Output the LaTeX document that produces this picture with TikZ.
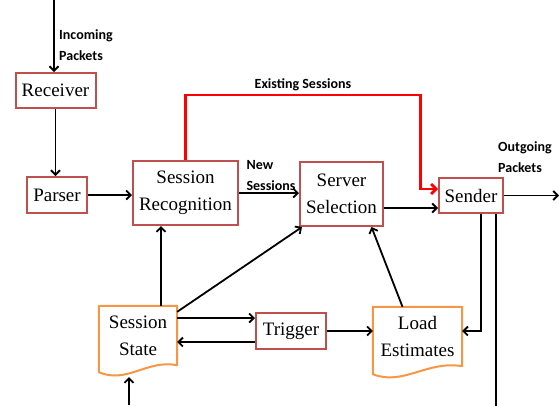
\documentclass[tikz,border=0pt]{standalone}
\usepackage{fontspec}
\setmainfont{Liberation Serif}
\newfontfamily\boxfont{Liberation Serif}
\newfontfamily\labfont{Carlito}[BoldFont={Carlito Bold}]
\usepackage{xcolor}
\usetikzlibrary{arrows.meta,calc}
\definecolor{boxred}{RGB}{192,80,77}
\definecolor{docorange}{RGB}{247,150,70}

\begin{document}
\begin{tikzpicture}[x=1pt,y=-1pt,
    box/.style={draw=boxred,line width=2pt,fill=white,align=center,inner sep=0pt,
      font=\boxfont\fontsize{19}{27}\selectfont},
    docbox/.style={align=center,inner sep=0pt,font=\boxfont\fontsize{19}{27}\selectfont},
    docline/.style={draw=docorange,line width=2pt,line join=round},
    lab/.style={font=\labfont\bfseries\fontsize{14}{21}\selectfont,align=left,inner sep=1pt,text=black},
    arrow/.style={-{Straight Barb[length=4.5pt,width=9pt]},line width=1.8pt},
    redarrow/.style={-{Straight Barb[length=5pt,width=10pt]},line width=2.8pt,red}]
  \useasboundingbox (0,0) rectangle (559,405);

  \node[box,minimum width=80pt,minimum height=35pt] (rec) at (55.5,90.5) {Receiver};
  \node[box,minimum width=60pt,minimum height=36pt] (parser) at (57,195) {Parser};
  \node[box,minimum width=105pt,minimum height=64pt] (sr) at (185.5,193) {Session\\Recognition};
  \node[box,minimum width=83pt,minimum height=64pt] (ss) at (341.5,194) {Server\\Selection};
  \node[box,minimum width=64pt,minimum height=35pt] (snd) at (471,195.5) {Sender};
  \node[box,minimum width=70pt,minimum height=36pt] (trig) at (291,331) {Trigger};
  \node[docbox,minimum width=78pt,minimum height=59pt] (state) at (138,335.5) {Session\\State};
  \node[docbox,minimum width=89pt,minimum height=59pt] (le) at (417.5,336.5) {Load\\Estimates};

  % document outlines
  \draw[docline] (state.north west) -- (state.north east) -- (state.south east)
    .. controls +(-30,-6) and +(28,12) .. ([yshift=-7pt]state.south west) -- cycle;
  \draw[docline] (le.north west) -- (le.north east) -- (le.south east)
    .. controls +(-35,-6) and +(30,12) .. ([yshift=-8pt]le.south west) -- cycle;

  \coordinate (inpk) at (54,0);
  \coordinate (outpk) at (559,195.5);
  \coordinate (statein) at (129,405);

  \draw[arrow] (inpk) -- (inpk |- rec.north);
  \node[lab,anchor=west] (inlab) at (58,45) {Incoming\\Packets};
  \draw[arrow] (rec.south) -- (rec.south |- parser.north);
  \draw[arrow] (parser.east) -- (parser.east -| sr.west);
  \draw[arrow] (sr.east) -- node[lab,above=1pt,xshift=2pt] {New\\Sessions} (sr.east -| ss.west);
  \draw[redarrow] (sr.north) -- ++(0,-65) -- node[lab,above=2pt] {Existing Sessions} ++(235,0)
    |- ([yshift=6.5pt]snd.west);
  \draw[arrow] ([yshift=-14pt]ss.east) -- ([yshift=-12.5pt]snd.west);
  \draw[arrow] (snd.east) -- (outpk);
  \node[lab,anchor=west] (outlab) at (497,157) {Outgoing\\Packets};

  \draw[arrow] ([xshift=10pt]snd.south) |- ([yshift=5.5pt]le.east);
  \draw[line width=1.8pt] ([xshift=25pt]snd.south) -- ++(0,192);

  \draw[arrow] ([xshift=23pt]state.north) -- ([xshift=-24.5pt]sr.south);
  \draw[arrow] ([yshift=-6pt]state.north east) -- ([xshift=3pt]ss.south west);
  \draw[arrow] ([yshift=17.5pt]state.east) -- ([yshift=13pt]trig.west);
  \draw[arrow] ([yshift=-11pt]trig.west) -- ([yshift=-6.5pt]state.east);
  \draw[arrow] (trig.east) -- (trig.east -| le.west);
  \draw[arrow] ([xshift=-15pt]le.north) -- ([xshift=30pt]ss.south);
  \draw[arrow] (statein) -- ++(0,-28);
\end{tikzpicture}
\end{document}
